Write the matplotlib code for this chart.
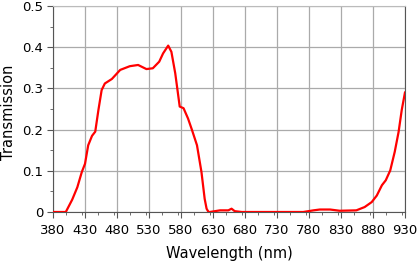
import matplotlib
matplotlib.use("Agg")
import matplotlib.pyplot as plt
import matplotlib.ticker as mticker

# ── data ────────────────────────────────────────────────────────────────────
wavelength = [380, 400, 410, 418, 425, 430, 435, 441, 446, 451, 456, 461, 472,
              485, 500, 513, 526, 536, 546, 552, 560, 565, 571, 578, 584, 591,
              597, 605, 612, 617, 620, 623, 625, 641, 654, 659, 664, 675, 700,
              750, 771, 787, 797, 813, 828, 854, 867, 878, 886, 894, 900, 907,
              914, 920, 925, 930]
transmission = [0.0, 0.0, 0.03, 0.06, 0.097, 0.117, 0.162, 0.185, 0.195, 0.248,
                0.296, 0.312, 0.323, 0.345, 0.354, 0.357, 0.347, 0.349, 0.365,
                0.385, 0.404, 0.389, 0.337, 0.256, 0.252, 0.227, 0.200, 0.162,
                0.097, 0.032, 0.008, 0.0, 0.0, 0.004, 0.004, 0.008, 0.002, 0.0,
                0.0, 0.0, 0.0, 0.004, 0.006, 0.006, 0.003, 0.004, 0.012, 0.024,
                0.040, 0.065, 0.077, 0.101, 0.146, 0.194, 0.248, 0.290]

x_ticks = [380, 430, 480, 530, 580, 630, 680, 730, 780, 830, 880, 930]
y_ticks = [0, 0.1, 0.2, 0.3, 0.4, 0.5]
y_labels = ["0", "0.1", "0.2", "0.3", "0.4", "0.5"]

FONT = "DejaVu Sans"

fig = plt.figure(figsize=(4.19, 2.64), dpi=100)
fig.patch.set_facecolor("white")
ax = fig.add_axes([0.1265, 0.197, 0.840, 0.780])

ax.plot(wavelength, transmission, color="#FF0000", linewidth=1.6, zorder=3)

ax.set_xlim(380, 930)
ax.set_ylim(0, 0.5)
ax.set_xticks(x_ticks)
ax.set_yticks(y_ticks)
ax.set_yticklabels(y_labels)
ax.xaxis.set_minor_locator(mticker.MultipleLocator(25))
ax.yaxis.set_minor_locator(mticker.MultipleLocator(0.05))

ax.grid(True, which="major", color="#AAAAAA", linewidth=0.9, zorder=0)
ax.set_axisbelow(True)

ax.tick_params(axis="both", which="major", direction="out", length=4,
               color="#555555", labelsize=9.5, pad=3)
ax.tick_params(axis="x", which="major", pad=5)
ax.tick_params(axis="both", which="minor", direction="out", length=2.5,
               color="#555555")
for lab in ax.get_xticklabels() + ax.get_yticklabels():
    lab.set_fontfamily(FONT)

for side in ["left", "bottom", "right"]:
    ax.spines[side].set_color("#555555")
ax.spines["top"].set_color("#BBBBBB")

ax.set_xlabel("Wavelength (nm)", fontsize=10.5, fontfamily=FONT, labelpad=6)
ax.set_ylabel("Transmission", fontsize=10.5, fontfamily=FONT)
ax.yaxis.set_label_coords(-0.106, 0.485)

fig.savefig("out.png", dpi=100, facecolor="white")
plt.close(fig)
